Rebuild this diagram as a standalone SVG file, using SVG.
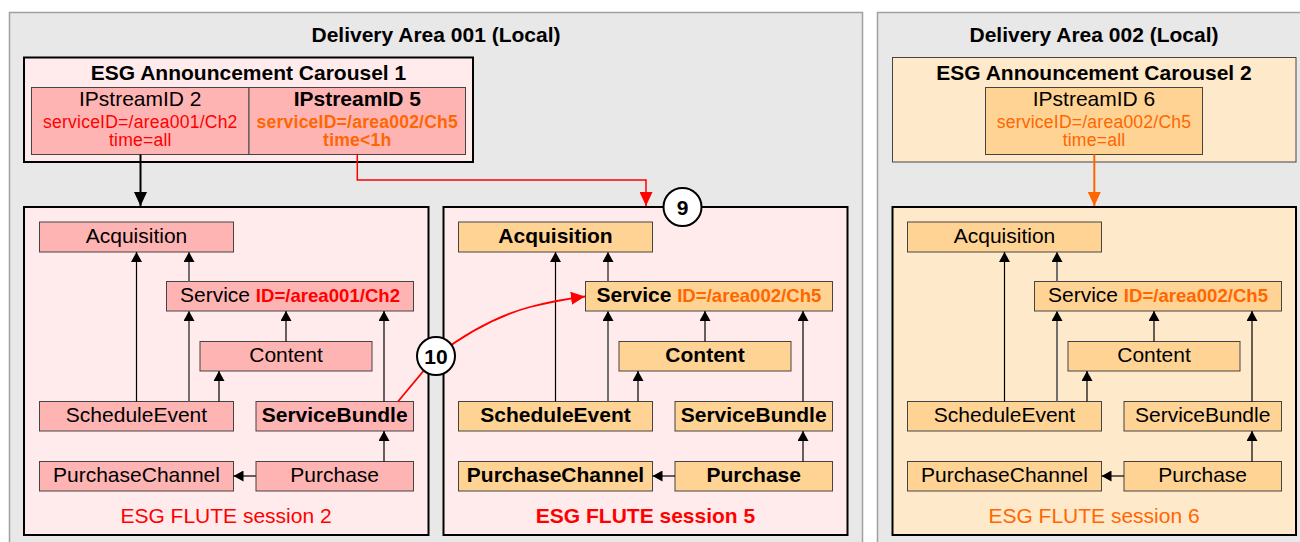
<svg xmlns="http://www.w3.org/2000/svg" width="1300" height="542" viewBox="0 0 1300 542">
<style>
text{font-family:"Liberation Sans",Arial,sans-serif;}
.area{fill:#e8e8e8;stroke:#a0a0a0;stroke-width:1.5;}
.ttl{font-size:21px;font-weight:bold;fill:#000;text-anchor:middle;}
.big{fill:#ffebeb;stroke:#000;stroke-width:2;}
.bigO{fill:#ffe9cb;stroke:#000;stroke-width:2;}
.pk{fill:#ffb4b4;stroke:#444;stroke-width:1;}
.or{fill:#ffd393;stroke:#444;stroke-width:1;}
.lbl{font-size:21px;fill:#000;text-anchor:middle;}
.b{font-weight:bold;}
.id{font-size:18.6px;font-weight:bold;}
.sm{font-size:17.6px;text-anchor:middle;letter-spacing:0.2px;}
.red{fill:#ff0000;}
.org{fill:#ff6600;}
.e{stroke:#000;stroke-width:1.2;fill:none;marker-end:url(#ah);}
.eg{stroke:#707070;stroke-width:2;fill:none;marker-end:url(#ah);}
.circ{fill:#fff;stroke:#000;stroke-width:2;}
</style>
<defs>
<marker id="ah" markerUnits="userSpaceOnUse" viewBox="0 0 10 11" markerWidth="10" markerHeight="11" refX="10" refY="5.5" orient="auto"><path d="M0,0 L10,5.5 L0,11 z" fill="#000"/></marker>
<marker id="abk" markerUnits="userSpaceOnUse" viewBox="0 0 14 13" markerWidth="14" markerHeight="13" refX="14" refY="6.5" orient="auto"><path d="M0,0 L14,6.5 L0,13 z" fill="#000"/></marker>
<marker id="ard" markerUnits="userSpaceOnUse" viewBox="0 0 14 13" markerWidth="14" markerHeight="13" refX="14" refY="6.5" orient="auto"><path d="M0,0 L14,6.5 L0,13 z" fill="#ff0000"/></marker>
<marker id="aor" markerUnits="userSpaceOnUse" viewBox="0 0 14 13" markerWidth="14" markerHeight="13" refX="14" refY="6.5" orient="auto"><path d="M0,0 L14,6.5 L0,13 z" fill="#ff6600"/></marker>
</defs>

<g id="area1">
<rect class="area" x="9.5" y="12.5" width="853" height="540"/>
<text class="ttl" x="436" y="42">Delivery Area 001 (Local)</text>
</g>
<g id="area2">
<rect class="area" x="877.5" y="12.5" width="440" height="540"/>
<text class="ttl" x="1094" y="42">Delivery Area 002 (Local)</text>
</g>

<g id="carousel1">
<rect class="big" x="24" y="57.5" width="449" height="104.5"/>
<text class="ttl" x="248.5" y="80">ESG Announcement Carousel 1</text>
</g>
<g id="ipstream2">
<rect class="pk" x="31.5" y="87.5" width="217.5" height="67"/>
<text class="lbl" x="140.3" y="106">IPstreamID 2</text>
<text class="sm red" x="140.3" y="127.5">serviceID=/area001/Ch2</text>
<text class="sm red" x="140.3" y="145.5">time=all</text>
</g>
<g id="ipstream5">
<rect class="pk" x="249" y="87.5" width="216.5" height="67"/>
<text class="lbl b" x="357.3" y="106">IPstreamID 5</text>
<text class="sm org b" x="357.3" y="127.5">serviceID=/area002/Ch5</text>
<text class="sm org b" x="357.3" y="145.5">time&lt;1h</text>
</g>

<g id="carousel2">
<rect x="892.5" y="57.5" width="403.5" height="104.5" fill="#ffe9cb" stroke="#444" stroke-width="1"/>
<text class="ttl" x="1094" y="80">ESG Announcement Carousel 2</text>
</g>
<g id="ipstream6">
<rect class="or" x="985.5" y="87.5" width="217" height="67"/>
<text class="lbl" x="1094" y="106">IPstreamID 6</text>
<text class="sm org" x="1094" y="127.5">serviceID=/area002/Ch5</text>
<text class="sm org" x="1094" y="145.5">time=all</text>
</g>

<!-- FLUTE session 2 -->
<g id="flute2">
<rect class="big" x="24" y="207" width="404.5" height="328"/>
<text class="lbl red" x="226" y="523">ESG FLUTE session 2</text>
</g>
<g id="f2-acq"><rect class="pk" x="39.5" y="222" width="194" height="30"/><text class="lbl" x="136.5" y="243">Acquisition</text></g>
<g id="f2-svc"><rect class="pk" x="166.5" y="281.5" width="247" height="29.5"/><text class="lbl" x="290" y="302">Service <tspan class="id red">ID=/area001/Ch2</tspan></text></g>
<g id="f2-cnt"><rect class="pk" x="200" y="341.5" width="172" height="29.5"/><text class="lbl" x="286" y="362">Content</text></g>
<g id="f2-sch"><rect class="pk" x="39.5" y="401.5" width="194" height="29.5"/><text class="lbl" x="136.5" y="422">ScheduleEvent</text></g>
<g id="f2-sb"><rect class="pk" x="256" y="401.5" width="157.5" height="29.5"/><text class="lbl b" x="334.7" y="422">ServiceBundle</text></g>
<g id="f2-pc"><rect class="pk" x="39.5" y="461.5" width="194" height="29.5"/><text class="lbl" x="136.5" y="482">PurchaseChannel</text></g>
<g id="f2-pur"><rect class="pk" x="256" y="461.5" width="157.5" height="29.5"/><text class="lbl" x="334.7" y="482">Purchase</text></g>

<!-- FLUTE session 5 -->
<g id="flute5">
<rect class="big" x="443.5" y="207" width="404" height="328"/>
<text class="lbl red b" x="645.5" y="523">ESG FLUTE session 5</text>
</g>
<g id="f5-acq"><rect class="or" x="458.5" y="222" width="194" height="30"/><text class="lbl b" x="555.5" y="243">Acquisition</text></g>
<g id="f5-svc"><rect class="or" x="585.5" y="281.5" width="247" height="29.5"/><text class="lbl b" x="709" y="302">Service <tspan class="id org">ID=/area002/Ch5</tspan></text></g>
<g id="f5-cnt"><rect class="or" x="619" y="341.5" width="172" height="29.5"/><text class="lbl b" x="705" y="362">Content</text></g>
<g id="f5-sch"><rect class="or" x="458.5" y="401.5" width="194" height="29.5"/><text class="lbl b" x="555.5" y="422">ScheduleEvent</text></g>
<g id="f5-sb"><rect class="or" x="675" y="401.5" width="157.5" height="29.5"/><text class="lbl b" x="753.7" y="422">ServiceBundle</text></g>
<g id="f5-pc"><rect class="or" x="458.5" y="461.5" width="194" height="29.5"/><text class="lbl b" x="555.5" y="482">PurchaseChannel</text></g>
<g id="f5-pur"><rect class="or" x="675" y="461.5" width="157.5" height="29.5"/><text class="lbl b" x="753.7" y="482">Purchase</text></g>

<!-- FLUTE session 6 -->
<g id="flute6">
<rect class="bigO" x="892.5" y="207" width="403.5" height="328"/>
<text class="lbl org" x="1094" y="523">ESG FLUTE session 6</text>
</g>
<g id="f6-acq"><rect class="or" x="907.5" y="222" width="194" height="30"/><text class="lbl" x="1004.5" y="243">Acquisition</text></g>
<g id="f6-svc"><rect class="or" x="1034.5" y="281.5" width="247" height="29.5"/><text class="lbl" x="1158" y="302">Service <tspan class="id org">ID=/area002/Ch5</tspan></text></g>
<g id="f6-cnt"><rect class="or" x="1068" y="341.5" width="172" height="29.5"/><text class="lbl" x="1154" y="362">Content</text></g>
<g id="f6-sch"><rect class="or" x="907.5" y="401.5" width="194" height="29.5"/><text class="lbl" x="1004.5" y="422">ScheduleEvent</text></g>
<g id="f6-sb"><rect class="or" x="1124" y="401.5" width="157.5" height="29.5"/><text class="lbl" x="1202.7" y="422">ServiceBundle</text></g>
<g id="f6-pc"><rect class="or" x="907.5" y="461.5" width="194" height="29.5"/><text class="lbl" x="1004.5" y="482">PurchaseChannel</text></g>
<g id="f6-pur"><rect class="or" x="1124" y="461.5" width="157.5" height="29.5"/><text class="lbl" x="1202.7" y="482">Purchase</text></g>

<g id="connectors">
<!-- box 2 -->
<path class="e" d="M136.5,401.5 V252"/>
<path class="eg" d="M189,281.5 V252"/>
<path class="eg" d="M189,401.5 V311"/>
<path class="e" d="M219,401.5 V371"/>
<path class="e" d="M286,341.5 V311"/>
<path class="e" d="M384,401.5 V311"/>
<path class="e" d="M384,461.5 V431"/>
<path class="e" d="M256,476 H233.5"/>
<!-- box 5 -->
<path class="e" d="M555.5,401.5 V252"/>
<path class="eg" d="M608,281.5 V252"/>
<path class="eg" d="M608,401.5 V311"/>
<path class="e" d="M638,401.5 V371"/>
<path class="e" d="M705,341.5 V311"/>
<path class="e" d="M803,401.5 V311"/>
<path class="e" d="M803,461.5 V431"/>
<path class="e" d="M675,476 H652.5"/>
<!-- box 6 -->
<path class="e" d="M1004.5,401.5 V252"/>
<path class="eg" d="M1057,281.5 V252"/>
<path class="eg" d="M1057,401.5 V311"/>
<path class="e" d="M1087,401.5 V371"/>
<path class="e" d="M1154,341.5 V311"/>
<path class="e" d="M1252,401.5 V311"/>
<path class="e" d="M1252,461.5 V431"/>
<path class="e" d="M1124,476 H1101.5"/>
<!-- carousel to sessions -->
<path d="M140.5,154.5 V206" stroke="#000" stroke-width="2" fill="none" marker-end="url(#abk)"/>
<path d="M357.3,154.5 V180 H646 V206" stroke="#ff0000" stroke-width="1.5" fill="none" marker-end="url(#ard)"/>
<path d="M1094.3,154.5 V206" stroke="#ff6600" stroke-width="2" fill="none" marker-end="url(#aor)"/>
<!-- cross-area reference -->
<path d="M398,401.5 L436,356 C470,330 500,315 530,307 C550,302 565,299 585,296.5" stroke="#ff0000" stroke-width="1.8" fill="none" marker-end="url(#ard)"/>
</g>

<g id="badge9">
<circle class="circ" cx="682.5" cy="207" r="19"/>
<text class="lbl b" x="682.5" y="214.5">9</text>
</g>
<g id="badge10">
<circle class="circ" cx="436" cy="356" r="19"/>
<text class="lbl b" x="436" y="363.5">10</text>
</g>
</svg>
